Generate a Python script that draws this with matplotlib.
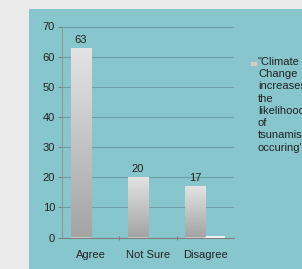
import matplotlib
matplotlib.use("Agg")
from matplotlib import pyplot as plt
from matplotlib.patches import Rectangle
import numpy as np

categories = ["Agree", "Not Sure", "Disagree"]
values = [63, 20, 17]
second_values = [0, 0, 0.4]
value_labels = ["63", "20", "17"]
legend_text = "\"Climate\nChange\nincreases\nthe\nlikelihood\nof\ntsunamis\noccuring\""
yticks = [0, 10, 20, 30, 40, 50, 60, 70]

plt.rcParams['font.family'] = ['Liberation Sans', 'DejaVu Sans']
text_color = "#222222"
teal = "#88c6cd"
grid_color = "#6d9fa5"

fig = plt.figure(figsize=(3.02, 2.69), dpi=100)
fig.patch.set_facecolor("#ebebeb")
fig.patches.append(Rectangle((29 / 302, 0), 1 - 29 / 302, 260 / 269,
                             transform=fig.transFigure, facecolor=teal,
                             edgecolor="none", zorder=-5))

ax = fig.add_axes([62 / 302, 31.5 / 269, 172 / 302, 211 / 269])
ax.set_facecolor("none")
ax.set_zorder(2)

x = np.arange(len(categories))
width = 0.35
bars = ax.bar(x - width / 2, values, width, color="#c8c8c8", zorder=3)
ax.bar(x + width / 2, second_values, width, color="#f4f4f4", zorder=3)

# vertical gradient inside each bar
grad = np.linspace(0, 1, 256).reshape(-1, 1)
cmap = matplotlib.colors.LinearSegmentedColormap.from_list("g", ["#a4a4a4", "#e4e4e4"])
for i, b in enumerate(bars):
    x0, w, h = b.get_x(), b.get_width(), b.get_height()
    im = ax.imshow(grad, extent=[x0, x0 + w, 0, h], origin="lower",
                   cmap=cmap, aspect="auto", zorder=4)
    im.set_clip_path(b)
    ax.text(x0 + w / 2, h + 1.0, value_labels[i],
            ha="center", va="bottom", fontsize=8, color=text_color)

ax.set_xlim(-0.5, 2.5)
ax.set_ylim(0, 70)
ax.set_yticks(yticks)
ax.set_xticks([0.5, 1.5])
ax.set_xticklabels([])
ax.tick_params(axis="x", length=3, color="#808080", direction="inout")
ax.tick_params(axis="y", length=3, color="#808080", labelsize=8,
               labelcolor=text_color, pad=2)
for i, c in enumerate(categories):
    ax.text(i, -4.0, c, ha="center", va="top", fontsize=8, color=text_color)

ax.grid(axis="y", color=grid_color, linewidth=0.8, zorder=1)
for s in ["top", "right"]:
    ax.spines[s].set_visible(False)
ax.spines["left"].set_color("#8a9a9c")
ax.spines["bottom"].set_color("#808080")
ax.spines["bottom"].set_zorder(5)

# legend
fig.patches.append(Rectangle((250 / 302, 1 - 66 / 269), 7 / 302, 5 / 269,
                             transform=fig.transFigure, facecolor="#cfcfcf",
                             edgecolor="#b0b0b0", linewidth=0.5, zorder=5))
fig.text(258 / 302, 1 - 57 / 269, legend_text, ha="left", va="top",
         fontsize=8, color=text_color, linespacing=1.28)

fig.savefig("out.png", dpi=100, facecolor=fig.get_facecolor())
